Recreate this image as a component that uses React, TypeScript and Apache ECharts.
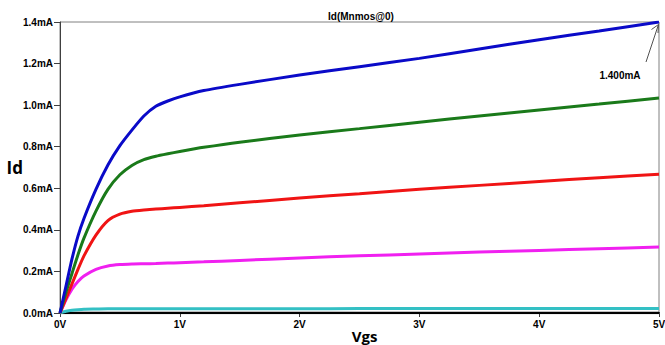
import React, { useEffect, useRef } from "react";
import * as echarts from "echarts";

const vds = [0, 0.05, 0.1, 0.15, 0.2, 0.3, 0.4, 0.5, 0.6, 0.7, 0.8, 0.9, 1.0, 1.2, 1.5, 2, 2.5, 3, 3.5, 4, 4.5, 5];
const idBlue = [0, 0.13, 0.26, 0.37, 0.455, 0.595, 0.712, 0.805, 0.88, 0.948, 0.995, 1.02, 1.04, 1.07, 1.1, 1.145, 1.185, 1.225, 1.27, 1.315, 1.357, 1.4];
const idGreen = [0, 0.1, 0.19, 0.28, 0.36, 0.49, 0.595, 0.665, 0.71, 0.738, 0.754, 0.766, 0.777, 0.797, 0.822, 0.856, 0.887, 0.918, 0.948, 0.977, 1.005, 1.034];
const idRed = [0, 0.07, 0.14, 0.21, 0.275, 0.375, 0.445, 0.476, 0.49, 0.496, 0.5, 0.504, 0.508, 0.516, 0.53, 0.553, 0.574, 0.595, 0.614, 0.633, 0.651, 0.668];
const idMagenta = [0, 0.063, 0.115, 0.152, 0.178, 0.21, 0.226, 0.233, 0.236, 0.237, 0.238, 0.24, 0.242, 0.246, 0.253, 0.265, 0.275, 0.284, 0.293, 0.301, 0.309, 0.317];
const idCyan = [0, 0.008, 0.013, 0.016, 0.018, 0.019, 0.02, 0.02, 0.02, 0.02, 0.02, 0.02, 0.02, 0.02, 0.02, 0.02, 0.022, 0.022, 0.022, 0.022, 0.022, 0.022];
const idBlack = [0, 0, 0, 0, 0, 0, 0, 0, 0, 0, 0, 0, 0, 0, 0, 0, 0, 0, 0, 0, 0, 0];

const seriesDefs = [
  { name: "black", values: idBlack, color: "#000000", width: 2.5 },
  { name: "cyan", values: idCyan, color: "#33c0c4", width: 3 },
  { name: "magenta", values: idMagenta, color: "#f020f0", width: 3 },
  { name: "red", values: idRed, color: "#f01414", width: 3 },
  { name: "green", values: idGreen, color: "#1a7a1a", width: 3 },
  { name: "blue", values: idBlue, color: "#0a0ac8", width: 3 },
];

const FONT = "'Liberation Sans', Arial, sans-serif";

export default function App() {
  const ref = useRef<HTMLDivElement>(null);
  useEffect(() => {
    if (!ref.current) return;
    const chart = echarts.init(ref.current, null, { renderer: "svg" });
    chart.setOption({
      animation: false,
      backgroundColor: "#ffffff",
      title: {
        text: "Id(Mnmos@0)",
        left: 323,
        top: 6,
        textStyle: { fontFamily: FONT, fontSize: 10, fontWeight: "bold", color: "#000" },
      },
      grid: {
        left: 60,
        right: 6,
        top: 22,
        bottom: 32,
        outerBoundsMode: "none",
        containLabel: false,
        show: true,
        borderColor: "#808080",
        borderWidth: 1,
        backgroundColor: "#ffffff",
      },
      xAxis: {
        type: "value",
        min: 0,
        max: 5,
        interval: 1,
        name: "Vgs",
        nameLocation: "middle",
        nameGap: 15,
        nameMoveOverlap: false,
        nameTextStyle: { fontFamily: "'Open Sans', sans-serif", fontSize: 15, fontWeight: "bold", color: "#000", padding: [0, 0, 0, 10] },
        axisLine: { show: true, lineStyle: { color: "#000", width: 2 } },
        axisTick: { show: true, length: 4, inside: false, lineStyle: { color: "#404040" } },
        axisLabel: {
          formatter: (v: number) => `${v}V`,
          fontFamily: FONT,
          fontSize: 10,
          fontWeight: "bold",
          color: "#000",
          margin: 6,
        },
        splitLine: { show: false },
      },
      yAxis: {
        type: "value",
        min: 0,
        max: 1.4,
        interval: 0.2,
        name: "Id",
        nameLocation: "middle",
        nameRotate: 0,
        nameGap: 37,
        nameMoveOverlap: false,
        nameTextStyle: { fontFamily: "'Open Sans', sans-serif", fontSize: 17, fontWeight: "bold", color: "#000" },
        axisLine: { show: true, lineStyle: { color: "#404040", width: 1 } },
        axisTick: { show: true, length: 6, lineStyle: { color: "#404040" } },
        axisLabel: {
          formatter: (v: number) => `${v.toFixed(1)}mA`,
          fontFamily: FONT,
          fontSize: 10,
          fontWeight: "bold",
          color: "#000",
          margin: 7,
        },
        splitLine: { show: false },
      },
      series: seriesDefs.map((s) => ({
        name: s.name,
        type: "line",
        data: vds.map((x, i) => [x, s.values[i]]),
        smooth: 0.2,
        showSymbol: false,
        symbol: "none",
        lineStyle: { color: s.color, width: s.width },
        itemStyle: { color: s.color },
        z: 3,
      })),
      graphic: [
        { type: "line", shape: { x1: 646, y1: 62, x2: 658.5, y2: 24.5 }, style: { stroke: "#505050", lineWidth: 1 }, z: 10 },
        { type: "polyline", shape: { points: [[651.5, 29.5], [658.5, 24.5], [658, 33]] }, style: { stroke: "#505050", lineWidth: 1, fill: "none" }, z: 10 },
        {
          type: "text",
          x: 620,
          y: 75,
          style: { text: "1.400mA", fontFamily: FONT, fontSize: 10, fontWeight: "bold", fill: "#000", align: "center", verticalAlign: "middle" },
          z: 10,
        },
      ],
    });
    return () => chart.dispose();
  }, []);
  return <div ref={ref} style={{ width: 665, height: 345, position: "absolute", left: 0, top: 0 }} />;
}
